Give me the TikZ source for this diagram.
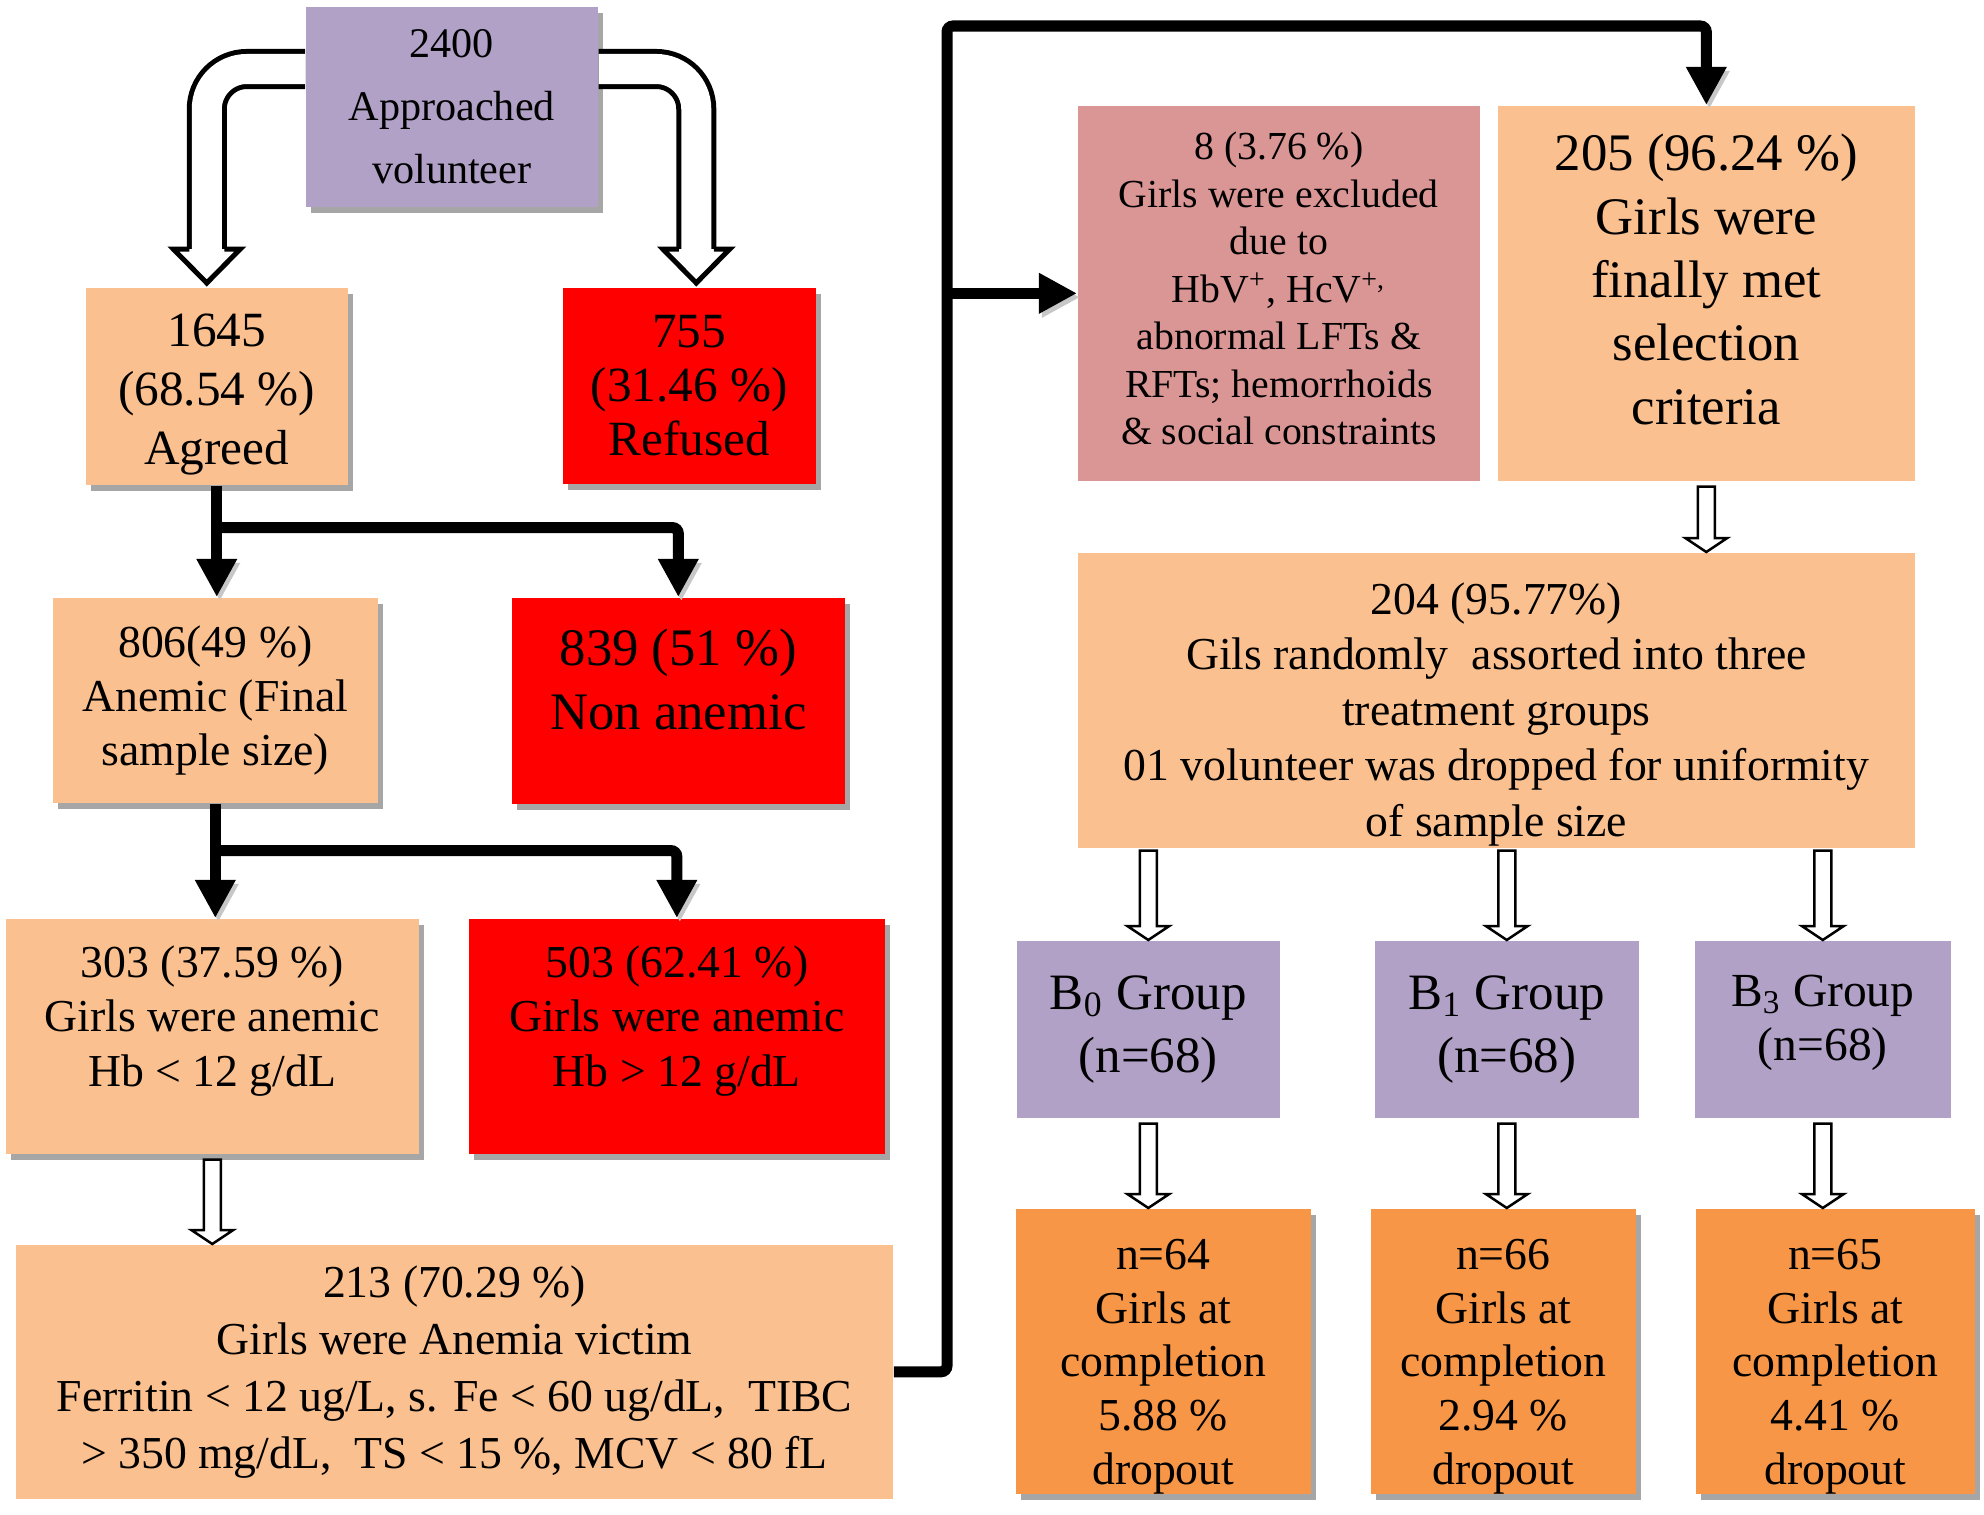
\documentclass[tikz,border=0pt]{standalone}
\usepackage{fontspec}
\setmainfont{Liberation Serif}
\usetikzlibrary{arrows.meta, positioning, calc, shadows}

\definecolor{lav}{HTML}{B2A1C7}
\definecolor{peach}{HTML}{FAC090}
\definecolor{rose}{HTML}{DA9694}
\definecolor{orng}{HTML}{F79646}

\newcommand{\fs}[2]{\fontsize{#1}{#2}\selectfont}
% struts to move the text of a box down (\dn) or up (\up)
\newcommand{\dn}[1]{\rule{0pt}{#1}}
\newcommand{\up}[1]{\rule[-#1]{0pt}{0pt}}
% white block arrow pointing down, from node #1 to node #2
\newcommand{\blockdown}[2]{%
  \coordinate (bt) at ($(#1.south)+(0,5)$);
  \coordinate (bh) at (#1.south |- #2.north);
  \filldraw[hollow] ($(bt)+(-8.5,0)$) -- ($(bh)+(-8.5,-14)$) -- ($(bh)+(-21,-14)$) -- (bh)
    -- ($(bh)+(21,-14)$) -- ($(bh)+(8.5,-14)$) -- ($(bt)+(8.5,0)$) -- cycle;}
% open head of the bent white arrows
\newcommand{\openhead}[1]{%
  \filldraw[fill=white, line width=0.05cm, line join=miter] ($(#1)+(-17.5,-38)$) -- ($(#1)+(-33.5,-38)$)
    -- ($(#1)+(0,-4)$) -- ($(#1)+(33.5,-38)$) -- ($(#1)+(17.5,-38)$);}

\begin{document}
\begin{tikzpicture}[x=0.01cm, y=-0.01cm,
    flowbox/.style={rectangle, inner sep=0pt, align=center, anchor=north west},
    boxshadow/.style={drop shadow={shadow xshift=0.05cm, shadow yshift=-0.06cm, fill=black!35, opacity=1}},
    flow/.style={line width=0.11cm, -{Triangle[length=0.38cm, width=0.38cm]}, rounded corners=0.06cm,
      preaction={draw=black!22, transform canvas={shift={(0.03cm,-0.04cm)}}}},
    bigarrow/.style={line width=0.05cm, double=white, double distance=0.30cm, rounded corners=0.4cm},
    hollow/.style={fill=white, draw=black, line width=0.025cm, line join=miter}]
\useasboundingbox (0,0) rectangle (1984,1515);

% left column
\node[flowbox, fill=lav, boxshadow, minimum width=2.92cm, minimum height=2.00cm, font=\fs{12}{18}] (b2400) at (305,6) {2400\\Approached\\volunteer};
\node[flowbox, fill=peach, boxshadow, minimum width=2.62cm, minimum height=1.97cm, font=\fs{14}{16.8}] (b1645) at (85,287) {\dn{14.2pt}1645\\(68.54 \%)\\Agreed};
\node[flowbox, fill=red, boxshadow, minimum width=2.53cm, minimum height=1.96cm, font=\fs{14}{15.4}] (b755) at (562,287) {755\\(31.46 \%)\\Refused};
\node[flowbox, fill=peach, boxshadow, minimum width=3.25cm, minimum height=2.05cm, font=\fs{13}{15.4}] (b806) at (52,597) {806(49 \%)\\Anemic (Final\\sample size)};
\node[flowbox, fill=red, boxshadow, minimum width=3.33cm, minimum height=2.06cm, font=\fs{15}{18.2}] (b839) at (511,597) {839 (51 \%)\\Non anemic\\[-6pt]\mbox{}};
\node[flowbox, fill=peach, boxshadow, minimum width=4.13cm, minimum height=2.35cm, font=\fs{13}{15.4}] (b303) at (5,918) {303 (37.59 \%)\\Girls were anemic\\Hb < 12 g/dL\up{11.5pt}};
\node[flowbox, fill=red, boxshadow, minimum width=4.16cm, minimum height=2.35cm, font=\fs{13}{15.4}] (b503) at (468,918) {503 (62.41 \%)\\Girls were anemic\\Hb > 12 g/dL\up{11.5pt}};
\node[flowbox, fill=peach, minimum width=8.77cm, minimum height=2.54cm, font=\fs{13}{16.2}] (b213) at (15,1244) {213 (70.29 \%)\\Girls were Anemia victim\\Ferritin < 12 ug/L, s. Fe < 60 ug/dL,\ \ TIBC\\> 350 mg/dL,\ \ TS < 15 \%, MCV < 80 fL};

% right column
\node[flowbox, fill=rose, minimum width=4.02cm, minimum height=3.75cm, font=\fs{11.3}{13.5}] (b8) at (1077,105) {8 (3.76 \%)\\Girls were excluded\\due to\\HbV\textsuperscript{+}, HcV\textsuperscript{+,}\\abnormal LFTs \&\\RFTs; hemorrhoids\\\& social constraints\up{2.8pt}};
\node[flowbox, fill=peach, minimum width=4.17cm, minimum height=3.75cm, font=\fs{15}{18}] (b205) at (1497,105) {205 (96.24 \%)\\Girls were\\finally met\\selection\\criteria\up{8pt}};
\node[flowbox, fill=peach, minimum width=8.37cm, minimum height=2.95cm, font=\fs{13}{15.8}] (b204) at (1077,552) {\dn{17pt}204 (95.77\%)\\Gils randomly\ \ assorted into three\\treatment groups\\01 volunteer was dropped for uniformity\\of sample size};
\node[flowbox, fill=lav, minimum width=2.63cm, minimum height=1.77cm, font=\fs{14.5}{18}] (gB0) at (1016,940) {B\textsubscript{0} Group\\(n=68)};
\node[flowbox, fill=lav, minimum width=2.64cm, minimum height=1.77cm, font=\fs{14.5}{18}] (gB1) at (1374,940) {B\textsubscript{1} Group\\(n=68)};
\node[flowbox, fill=lav, minimum width=2.56cm, minimum height=1.77cm, font=\fs{13.5}{15.5}] (gB3) at (1694,940) {B\textsubscript{3} Group\\(n=68)\up{6.6pt}};
\node[flowbox, fill=orng, boxshadow, minimum width=2.95cm, minimum height=2.79cm, font=\fs{13}{15.3}] (n64) at (1015,1208) {\dn{17.2pt}n=64\\Girls at\\completion\\5.88 \%\\dropout};
\node[flowbox, fill=orng, boxshadow, minimum width=2.65cm, minimum height=2.79cm, font=\fs{13}{15.3}] (n66) at (1370,1208) {\dn{17.2pt}n=66\\Girls at\\completion\\2.94 \%\\dropout};
\node[flowbox, fill=orng, boxshadow, minimum width=2.79cm, minimum height=2.79cm, font=\fs{13}{15.3}] (n65) at (1695,1208) {\dn{17.2pt}n=65\\Girls at\\completion\\4.41 \%\\dropout};

% bent white arrows from the top box
\coordinate (ltip) at ($(b1645.north)+(-10,0)$);
\coordinate (rtip) at ($(b755.north)+(7,0)$);
\draw[bigarrow] ($(b2400.north west)+(0,63)$) -| ($(ltip)+(0,-38)$);
\draw[bigarrow] ($(b2400.north east)+(0,63)$) -| ($(rtip)+(0,-38)$);
\openhead{ltip}
\openhead{rtip}

% black connectors
\coordinate (sp1) at ($(b1645.south)+(0,42)$);
\coordinate (sp2) at ($(b806.south)+(0,47)$);
\draw[flow] (b1645.south) -- (b1645.south |- b806.north);
\draw[flow] (sp1) -| (b839.north);
\draw[flow] (b806.south) -- (b806.south |- b303.north);
\draw[flow] (sp2) -| (b503.north);

\coordinate (up) at (947,26);
\coordinate (fork) at (up |- b8.west);
\draw[flow] (b213.east) -| (up) -| (b205.north);
\draw[flow] (fork) -- (b8.west);

% white block arrows
\blockdown{b303}{b213}
\blockdown{b205}{b204}
\blockdown{gB0}{n64}
\blockdown{gB1}{n66}
\blockdown{gB3}{n65}
\coordinate (g0) at (b204.south -| gB0.south);
\coordinate (g1) at (b204.south -| gB1.south);
\coordinate (g3) at (b204.south -| gB3.south);
\filldraw[hollow] ($(g0)+(-8.5,2)$) -- ($(gB0.north)+(-8.5,-14)$) -- ($(gB0.north)+(-21,-14)$) -- (gB0.north) -- ($(gB0.north)+(21,-14)$) -- ($(gB0.north)+(8.5,-14)$) -- ($(g0)+(8.5,2)$) -- cycle;
\filldraw[hollow] ($(g1)+(-8.5,2)$) -- ($(gB1.north)+(-8.5,-14)$) -- ($(gB1.north)+(-21,-14)$) -- (gB1.north) -- ($(gB1.north)+(21,-14)$) -- ($(gB1.north)+(8.5,-14)$) -- ($(g1)+(8.5,2)$) -- cycle;
\filldraw[hollow] ($(g3)+(-8.5,2)$) -- ($(gB3.north)+(-8.5,-14)$) -- ($(gB3.north)+(-21,-14)$) -- (gB3.north) -- ($(gB3.north)+(21,-14)$) -- ($(gB3.north)+(8.5,-14)$) -- ($(g3)+(8.5,2)$) -- cycle;
\end{tikzpicture}
\end{document}
